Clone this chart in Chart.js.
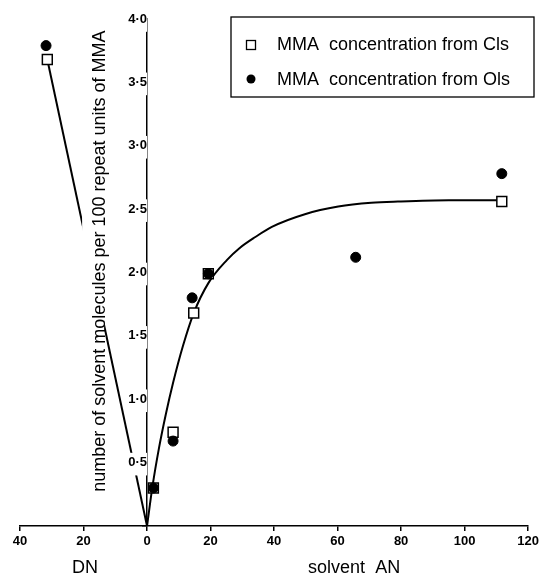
<!DOCTYPE html>
<html><head><meta charset="utf-8">
<script src="https://cdn.jsdelivr.net/npm/chart.js@4.4.0/dist/chart.umd.min.js"></script>
<style>html,body{margin:0;padding:0;background:#fff}canvas{display:block}</style>
</head><body>
<canvas id="c" width="542" height="576"></canvas>
<script>
// ---- data ----
const seriesLabels = ['MMA  concentration from Cls', 'MMA  concentration from Ols'];
const clsX = [-31.4, 2.0, 8.2, 14.7, 19.3, 111.7];
const clsY = [3.68, 0.30, 0.74, 1.68, 1.99, 2.56];
const olsX = [-31.8, 2.0, 8.2, 14.2, 19.3, 65.7, 111.7];
const olsY = [3.79, 0.30, 0.67, 1.80, 1.99, 2.12, 2.78];
const fitX = [0, 1.7, 3.8, 5.9, 8.2, 11.3, 14.7, 19.4, 25.2, 29, 34.1, 39.3, 49.7, 60.2, 70.6, 79, 95, 112];
const fitY = [0, 0.31, 0.62, 0.88, 1.13, 1.42, 1.68, 1.92, 2.10, 2.19, 2.28, 2.36, 2.46, 2.52, 2.55, 2.56, 2.57, 2.57];
const dnX = [-31.4, 0];
const dnY = [3.68, 0];
const xTickValues = [-40, -20, 0, 20, 40, 60, 80, 100, 120];
const xTickLabels = ['40', '20', '0', '20', '40', '60', '80', '100', '120'];
const yTickValues = [0, 0.5, 1, 1.5, 2, 2.5, 3, 3.5, 4];
const yTickLabels = ['', '0·5', '1·0', '1·5', '2·0', '2·5', '3·0', '3·5', '4·0'];
const yTitle = 'number of solvent molecules per 100 repeat units of MMA';
const xTitleLeft = 'DN';
const xTitleRight = 'solvent  AN';

const pts = (xs, ys) => xs.map((v, i) => ({x: v, y: ys[i]}));
const FONT = '"Liberation Sans", Arial, Helvetica, sans-serif';
Chart.defaults.font.family = FONT;
Chart.defaults.color = '#000';

const annot = {
  id: 'annot',
  afterDatasetsDraw(chart) {
    const {ctx, scales: {x, y}} = chart;
    ctx.save();
    ctx.font = '18px ' + FONT;
    const w = ctx.measureText(yTitle).width;
    const cx = x.getPixelForValue(-13.2);
    const cy = y.getPixelForValue(2.09);
    ctx.translate(cx, cy);
    ctx.rotate(-Math.PI / 2);
    ctx.fillStyle = '#fff';
    ctx.fillRect(-w / 2 - 3, -23, w + 6, 22);
    ctx.fillStyle = '#000';
    ctx.textAlign = 'center';
    ctx.textBaseline = 'alphabetic';
    ctx.fillText(yTitle, 0, 0);
    ctx.restore();
  },
  afterDraw(chart) {
    const {ctx, scales: {x}} = chart;
    ctx.save();
    ctx.fillStyle = '#000';
    ctx.font = '18px ' + FONT;
    ctx.textAlign = 'center';
    ctx.textBaseline = 'middle';
    ctx.fillText(xTitleLeft, x.getPixelForValue(-19.5), 568);
    ctx.fillText(xTitleRight, x.getPixelForValue(65.2), 568);
    // legend box
    ctx.strokeStyle = '#000';
    ctx.lineWidth = 1.3;
    ctx.strokeRect(231, 17, 303, 80);
    // square marker
    ctx.fillStyle = '#fff';
    ctx.fillRect(246.5, 40.5, 9, 9);
    ctx.strokeRect(246.5, 40.5, 9, 9);
    // circle marker
    ctx.fillStyle = '#000';
    ctx.beginPath();
    ctx.arc(251, 79, 4.5, 0, Math.PI * 2);
    ctx.fill();
    ctx.textAlign = 'left';
    ctx.fillText(seriesLabels[0], 277, 45);
    ctx.fillText(seriesLabels[1], 277, 80);
    ctx.restore();
  }
};

new Chart(document.getElementById('c'), {
  type: 'scatter',
  data: {
    datasets: [
      {label: seriesLabels[1], data: pts(olsX, olsY), pointStyle: 'circle', pointRadius: 5,
       backgroundColor: '#000', borderColor: '#000', borderWidth: 1},
      {label: seriesLabels[0], data: pts(clsX, clsY), pointStyle: 'rect', pointRadius: 7,
       backgroundColor: '#fff', borderColor: '#000', borderWidth: 1.5},
      {label: 'fit', data: pts(fitX, fitY), showLine: true, pointRadius: 0,
       borderColor: '#000', borderWidth: 2, cubicInterpolationMode: 'monotone'},
      {label: 'DN', data: pts(dnX, dnY), showLine: true, pointRadius: 0,
       borderColor: '#000', borderWidth: 2}
    ]
  },
  options: {
    responsive: false,
    animation: false,
    events: [],
    layout: {padding: {left: 20, right: 12, top: 19, bottom: 0}},
    plugins: {legend: {display: false}, tooltip: {enabled: false}},
    scales: {
      x: {
        type: 'linear', position: 'bottom', min: -40, max: 120,
        afterBuildTicks: s => { s.ticks = xTickValues.map(v => ({value: v})); },
        afterFit: s => { s.height = 50; },
        grid: {display: true, drawOnChartArea: false, drawTicks: true, tickLength: 5, color: '#000', lineWidth: 1.5},
        border: {display: true, color: '#000', width: 1.5},
        ticks: {padding: 3, font: {size: 13, weight: 'bold'}, color: '#000', maxRotation: 0,
                callback: (v, i) => xTickLabels[i]}
      },
      y: {
        type: 'linear', position: {x: 0}, min: 0, max: 4,
        afterBuildTicks: s => { s.ticks = yTickValues.map(v => ({value: v})); },
        grid: {display: true, drawOnChartArea: false, drawTicks: true, tickLength: 4, color: '#000', lineWidth: 1.5},
        border: {display: true, color: '#000', width: 1.5},
        ticks: {z: 1, padding: 1, font: {size: 13, weight: 'bold'}, color: '#000',
                showLabelBackdrop: c => c.index > 0, backdropColor: '#fff',
                backdropPadding: {top: 2, bottom: 5, left: 2, right: 0},
                callback: (v, i) => yTickLabels[i]}
      }
    }
  },
  plugins: [annot]
});
</script>
</body></html>
